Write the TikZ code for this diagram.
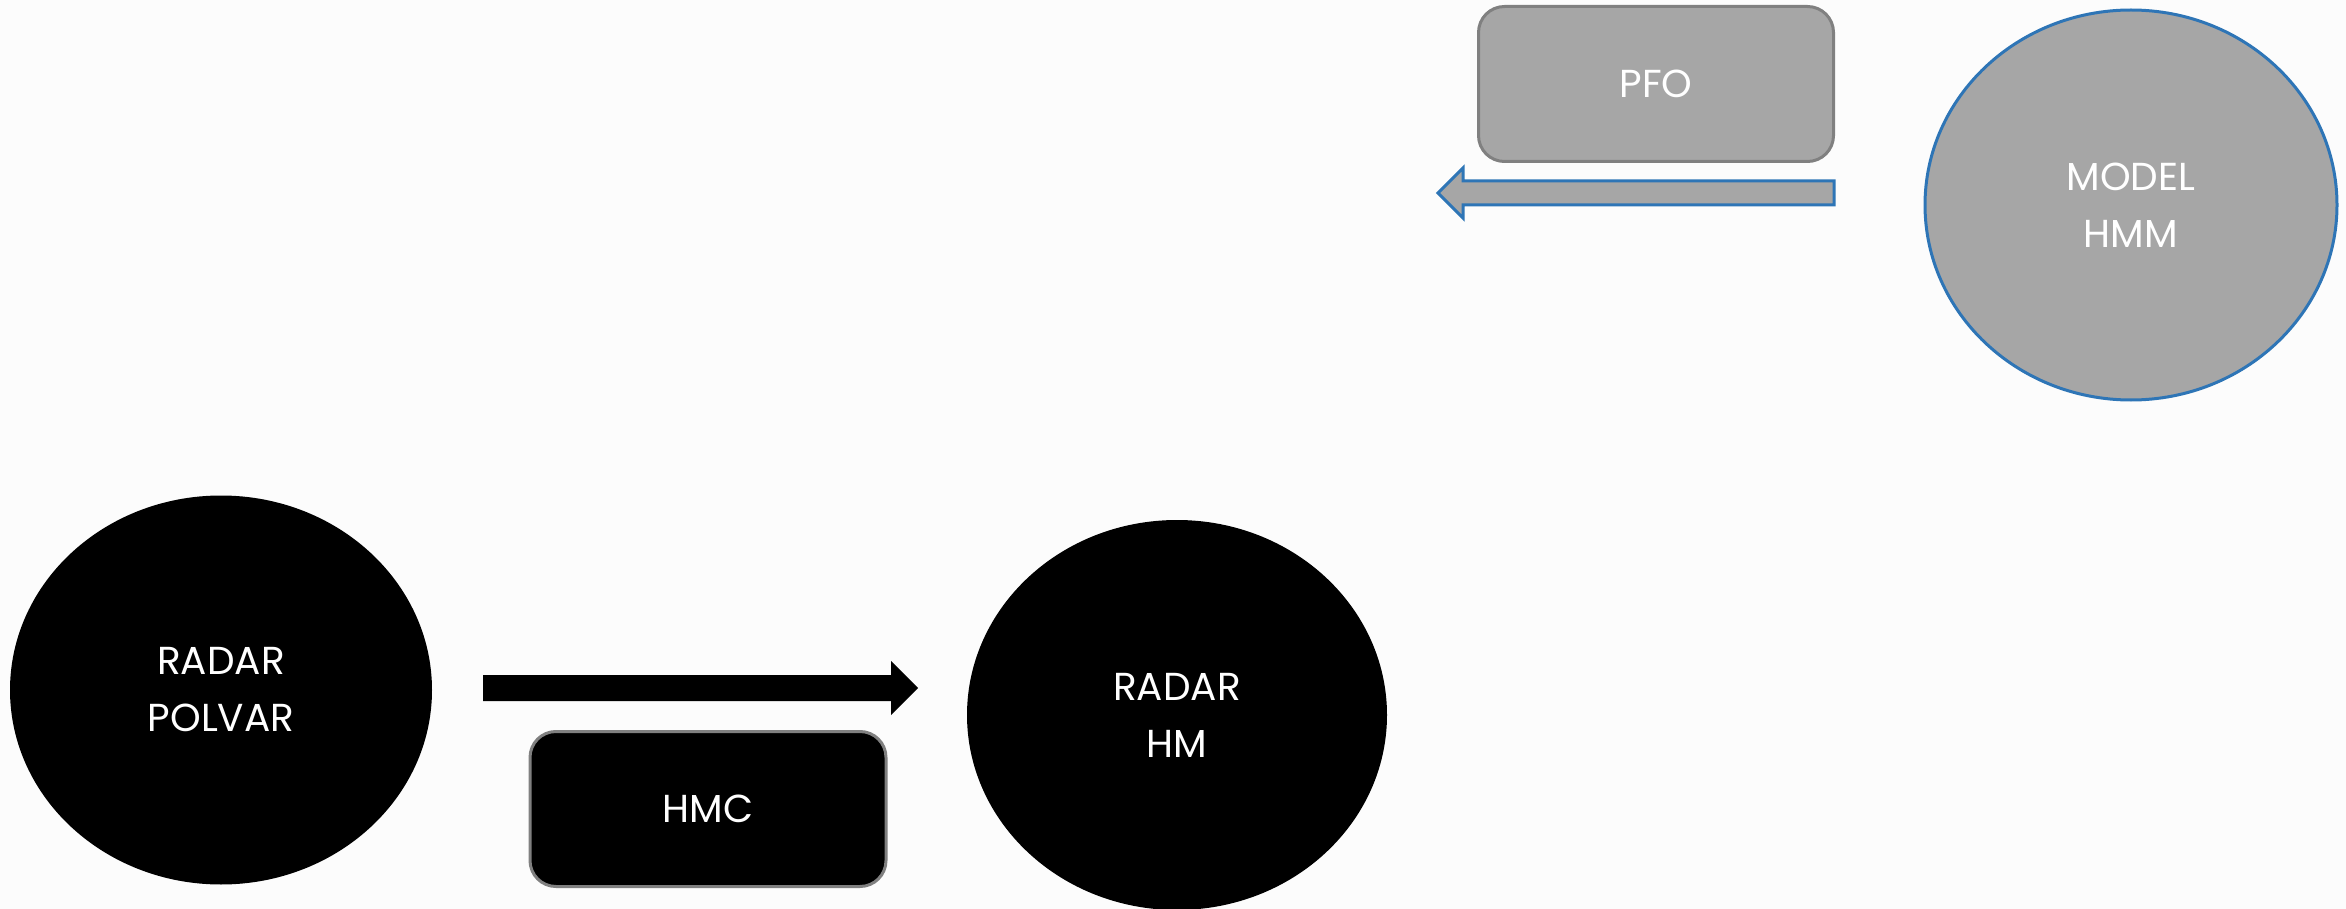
\documentclass[tikz,border=0pt]{standalone}
\usepackage{fontspec}
\newfontfamily\labfont{Poppins}
\usetikzlibrary{shapes.geometric}
\definecolor{bg}{HTML}{FCFCFC}
\definecolor{boxgray}{HTML}{A6A6A6}
\definecolor{edgegray}{HTML}{808080}
\definecolor{edgeblue}{HTML}{2E75B6}
\tikzset{
  lbl/.style={font=\labfont\fontsize{39}{57}\selectfont, text=white, align=center},
  blob/.style={ellipse, inner sep=0pt, lbl},
  card/.style={rectangle, rounded corners=26pt, inner sep=0pt, line width=3pt, draw=edgegray, lbl},
}
\begin{document}
\begin{tikzpicture}[x=1pt,y=-1pt]
  \fill[bg] (0,0) rectangle (2346,909);
  \useasboundingbox (0,0) rectangle (2346,909);

  % upper row
  \node[card, fill=boxgray, minimum width=355pt, minimum height=155pt] (pfo) at (1656,84) {PFO};
  \node[blob, fill=boxgray, draw=edgeblue, line width=3pt, minimum width=412pt, minimum height=390pt] (model) at (2131,205) {MODEL\\HMM};
  \draw[edgeblue, line width=3pt, fill=boxgray, line join=miter]
    (1834,181) -- (1463,181) -- (1463,168) -- (1438,193) -- (1463,218) -- (1463,205) -- (1834,205) -- cycle;

  % lower row
  \node[blob, fill=black, minimum width=422pt, minimum height=389pt] (polvar) at (221,690) {RADAR\\POLVAR};
  \node[blob, fill=black, minimum width=420pt, minimum height=390pt] (hm) at (1177,715) {RADAR\\HM};
  \node[card, fill=black, minimum width=356pt, minimum height=155pt] (hmc) at (708,809) {HMC};
  \fill[black]
    (483,675) -- (891,675) -- (891,661) -- (918,688) -- (891,715) -- (891,701) -- (483,701) -- cycle;
\end{tikzpicture}
\end{document}
